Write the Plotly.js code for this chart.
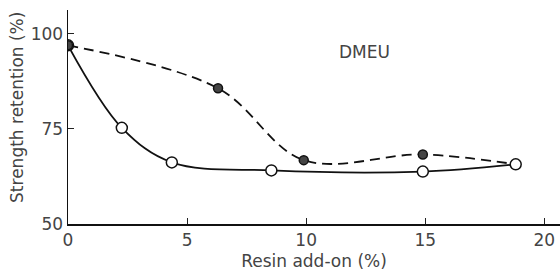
<!DOCTYPE html>
<html><head><meta charset="utf-8">
<script src="https://cdn.plot.ly/plotly-3.0.1.min.js"></script>
<style>html,body{margin:0;padding:0;background:#fff}#c{width:560px;height:271px}</style>
</head><body><div id="c"></div>
<script>
// Open circles, solid curve
const addonOpen = [0, 2.26, 4.36, 8.54, 14.9, 18.8];
const retentionOpen = [97, 75.3, 66.2, 64.1, 63.8, 65.7];
// Filled circles, dashed curve (ends at last open circle)
const addonFilled = [0, 6.3, 9.9, 14.9, 18.8];
const retentionFilled = [97, 85.7, 66.8, 68.3, 65.7];
const xTicks = [0, 5, 10, 15, 20];
const yTicks = [50, 75, 100];
const label = "DMEU";

const font = {family: "DejaVu Sans, sans-serif", size: 17, color: "#444"};
const traces = [
  {x: addonFilled, y: retentionFilled, mode: "lines", line: {shape: "spline", smoothing: 1, dash: "10px,6px", color: "#111", width: 1.8}, hoverinfo: "none"},
  {x: addonOpen, y: retentionOpen, mode: "lines+markers", line: {shape: "spline", smoothing: 1, color: "#111", width: 1.8},
   marker: {symbol: "circle", size: 11, color: "#fff", line: {color: "#111", width: 1.5}}},
  {x: addonFilled.slice(0, 4), y: retentionFilled.slice(0, 4), mode: "markers",
   marker: {symbol: "circle", size: 9, color: "#444", line: {color: "#111", width: 1.5}}}
];
const layout = {
  width: 560, height: 271, showlegend: false,
  margin: {l: 68, r: 0, t: 10, b: 47},
  paper_bgcolor: "#fff", plot_bgcolor: "#fff",
  font: font,
  xaxis: {range: [0, 20.66], tickvals: xTicks, ticktext: xTicks.map(String), ticks: "inside", ticklen: 6, tickcolor: "#222",
    showline: true, linecolor: "#111", linewidth: 1.5, showgrid: false, zeroline: false, fixedrange: true,
    title: {text: "Resin add-on (%)", font: font, standoff: 6}},
  yaxis: {range: [50, 106.3], tickvals: yTicks, ticktext: yTicks.map(String), ticks: "inside", ticklen: 6, tickcolor: "#222",
    showline: true, linecolor: "#111", linewidth: 1.5, showgrid: false, zeroline: false, fixedrange: true},
  annotations: [
    {x: 12.46, y: 95.3, xref: "x", yref: "y", text: label, showarrow: false, font: font},
    {x: -0.1037, y: 0.547, xref: "paper", yref: "paper", xanchor: "center", yanchor: "middle",
     text: "Strength retention (%)", textangle: -90, showarrow: false, font: font}
  ]
};
Plotly.newPlot("c", traces, layout, {staticPlot: true});
</script></body></html>
